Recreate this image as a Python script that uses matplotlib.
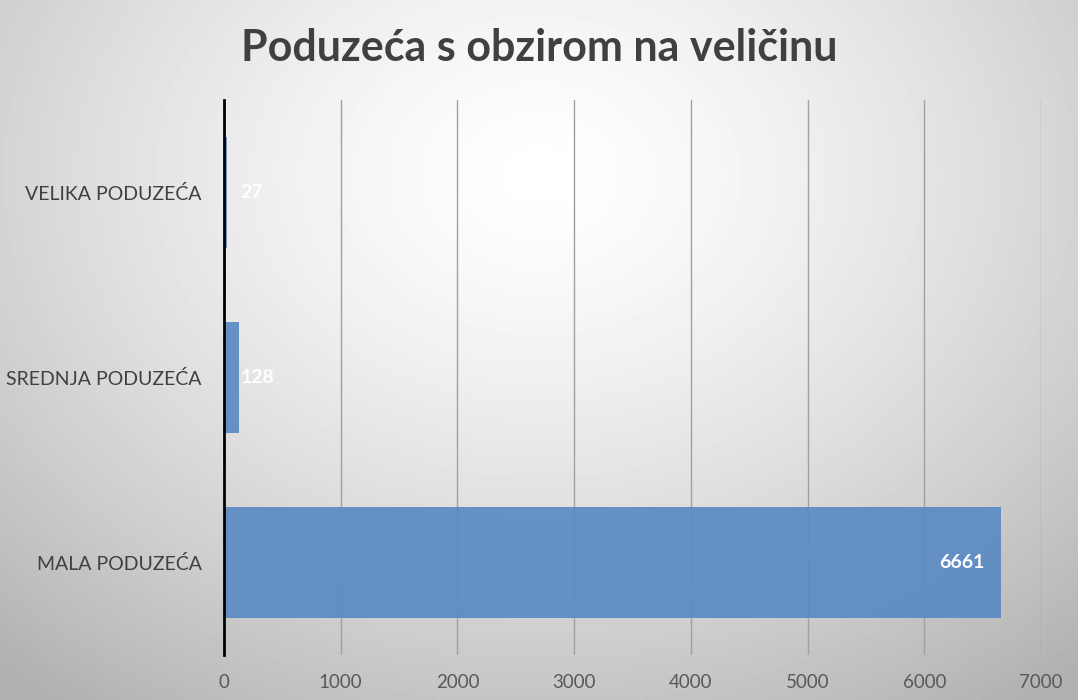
import numpy as np
import matplotlib
matplotlib.use("Agg")
import matplotlib.pyplot as plt

categories = ["MALA PODUZEĆA", "SREDNJA PODUZEĆA", "VELIKA PODUZEĆA"]
values = [6661, 128, 27]
x_ticks = [0, 1000, 2000, 3000, 4000, 5000, 6000, 7000]

plt.rcParams['font.family'] = ['Lato', 'DejaVu Sans']

fig = plt.figure(figsize=(10.78, 7), dpi=100)

# gradient background, light in the upper middle, grey at the edges
bg = fig.add_axes([0, 0, 1, 1], zorder=-10)
yy, xx = np.mgrid[0:1:200j, 0:1:300j]
r = np.sqrt(((xx - 0.5) / 0.7) ** 2 + ((yy - 0.25) / 0.85) ** 2)
shade = 1.0 - 0.27 * np.clip(r, 0, 1.1) ** 1.4
bg.imshow(shade, cmap='gray', vmin=0, vmax=1, aspect='auto', extent=[0, 1, 1, 0])
bg.axis('off')

ax = fig.add_axes([0.2078, 0.0643, 0.7579, 0.7929])
ax.patch.set_alpha(0)

y = np.arange(len(categories))
ax.barh(y, values, height=0.6, color='#5b8ac4', alpha=0.92, zorder=3)

for yi, v in zip(y, values):
    if v > 1000:
        ax.annotate(str(v), (v, yi), xytext=(-12, 0), textcoords='offset points',
                    ha='right', va='center', color='white', fontsize=14, fontweight='bold', zorder=4)
    else:
        ax.annotate(str(v), (0, yi), xytext=(12, 0), textcoords='offset points',
                    ha='left', va='center', color='white', fontsize=14, fontweight='bold', zorder=4)

ax.set_xlim(0, 7000)
ax.set_ylim(-0.5, 2.5)
ax.set_xticks(x_ticks)
ax.set_xticklabels([str(t) for t in x_ticks], fontsize=13.5, color='#595959')
ax.set_yticks(y)
ax.set_yticklabels(categories, fontsize=14, color='#404040')
ax.tick_params(axis='both', length=0)
ax.tick_params(axis='x', pad=14)
ax.tick_params(axis='y', pad=16)

ax.grid(axis='x', color='#a0a0a0', linewidth=1, zorder=0)
for s in ['top', 'right', 'bottom']:
    ax.spines[s].set_visible(False)
ax.spines['left'].set_color('black')
ax.spines['left'].set_linewidth(2)
ax.spines['left'].set_zorder(5)

fig.text(0.5, 0.932, "Poduzeća s obzirom na veličinu", ha='center', va='center',
         fontsize=31, fontweight='bold', color='#404040')

fig.savefig("out.png", dpi=100)
